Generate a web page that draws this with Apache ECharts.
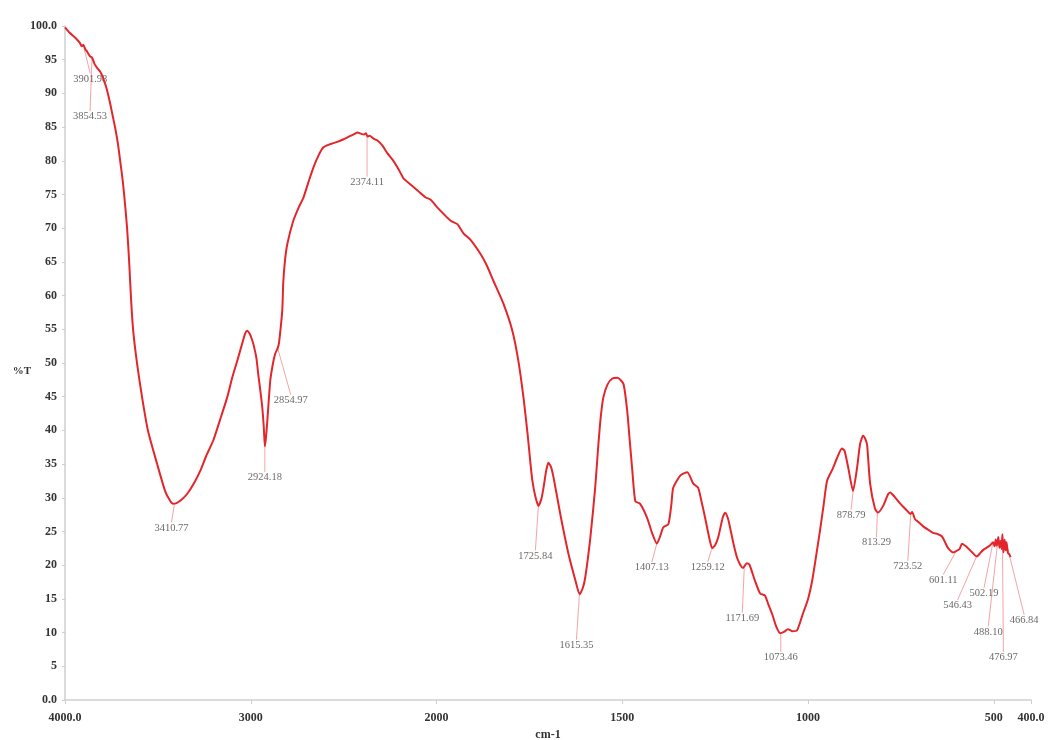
<!DOCTYPE html>
<html>
<head>
<meta charset="utf-8">
<title>FTIR spectrum</title>
<script src="https://cdn.jsdelivr.net/npm/echarts@6/dist/echarts.min.js"></script>
<style>
  html, body { margin: 0; padding: 0; background: #fff; }
  #chart { width: 1051px; height: 740px; }
</style>
</head>
<body>
<div id="chart"></div>
<script>
// wavenumber (cm-1) and transmittance (%T)
var wavenumbers = [
  4000, 3975, 3946, 3920, 3910, 3901, 3890, 3881, 3865, 3854, 3840, 3827, 3810, 3795, 3775, 3757,
  3745, 3730, 3715, 3703, 3690, 3682, 3666, 3655, 3644, 3633, 3612, 3585, 3553, 3504, 3461, 3435,
  3418, 3400, 3370, 3342, 3305, 3272, 3240, 3202, 3165, 3127, 3100, 3073, 3045, 3030, 3019, 3005,
  2995, 2986, 2970, 2960, 2948, 2938, 2930, 2924, 2918, 2911, 2895, 2880, 2868, 2855, 2848, 2838,
  2830, 2825, 2815, 2803, 2771, 2740, 2717, 2690, 2663, 2635, 2609, 2570, 2534, 2500, 2464, 2440,
  2426, 2405, 2390, 2380, 2372, 2360, 2340, 2318, 2290, 2264, 2235, 2210, 2190, 2178, 2140, 2102,
  2060, 2030, 2000, 1962, 1944, 1927, 1909, 1882, 1865, 1847, 1820, 1796, 1780, 1766, 1755, 1747,
  1742, 1734, 1726, 1718, 1712, 1705, 1699, 1692, 1685, 1667, 1645, 1626, 1615, 1607, 1600, 1586,
  1573, 1565, 1558, 1551, 1540, 1527, 1513, 1497, 1487, 1480, 1473, 1465, 1452, 1433, 1420, 1407,
  1398, 1390, 1376, 1368, 1363, 1344, 1325, 1309, 1296, 1287, 1277, 1265, 1258, 1250, 1242, 1230,
  1223, 1216, 1210, 1200, 1191, 1182, 1175, 1165, 1158, 1143, 1129, 1116, 1107, 1097, 1085, 1075,
  1065, 1054, 1042, 1030, 1014, 1000, 989, 978, 968, 958, 949, 933, 922, 909, 902, 892,
  879, 868, 860, 852, 845, 841, 833, 820, 812, 798, 785, 779, 768, 753, 734, 725,
  720, 712, 707, 691, 675, 664, 650, 640, 632, 624, 610, 601, 592, 586, 575, 560,
  546, 538, 530, 511, 502, 498, 495, 492, 488, 485, 482, 479, 477, 474, 471, 468,
  466, 462, 458, 455
];
var transmittance = [
  99.8, 99.0, 98.3, 97.5, 97.0, 97.2, 96.5, 96.2, 95.5, 95.3, 94.3, 93.8, 93.2, 92.3, 90.6, 88.5,
  86.9, 84.9, 82.5, 80.0, 77.2, 75.1, 70.1, 65.2, 59.3, 54.8, 49.9, 44.9, 39.9, 35.0, 31.0, 29.6,
  29.1, 29.2, 29.8, 30.6, 32.2, 34.0, 36.2, 38.5, 41.6, 44.9, 47.8, 50.3, 53.0, 54.4, 54.8, 54.3,
  53.6, 52.8, 50.8, 48.4, 45.8, 43.4, 40.5, 37.6, 39.0, 41.4, 47.4, 50.0, 51.4, 52.2, 53.0, 55.5,
  58.0, 62.0, 65.4, 67.7, 71.1, 73.2, 74.5, 76.8, 79.0, 80.8, 82.0, 82.5, 82.8, 83.2, 83.7, 84.0,
  84.2, 84.0, 83.9, 84.1, 83.6, 83.7, 83.3, 83.0, 82.2, 81.1, 80.1, 79.0, 78.0, 77.4, 76.5, 75.6,
  74.6, 74.2, 73.2, 71.1, 70.6, 69.2, 68.3, 66.2, 64.5, 62.2, 58.8, 54.8, 50.4, 44.9, 39.5, 35.0,
  32.5, 30.2, 28.8, 29.8, 31.5, 34.0, 35.2, 34.6, 33.0, 27.6, 21.7, 17.7, 15.7, 16.5, 18.1, 24.1,
  31.5, 37.5, 42.0, 44.9, 46.8, 47.7, 47.8, 46.9, 43.0, 38.5, 34.0, 29.5, 29.1, 27.0, 24.8, 23.2,
  24.3, 25.6, 26.1, 29.0, 31.5, 33.3, 33.8, 32.1, 31.5, 29.5, 27.0, 23.8, 22.5, 23.0, 24.1, 27.0,
  27.8, 27.0, 25.6, 23.0, 21.1, 20.0, 19.6, 20.3, 20.1, 17.7, 15.8, 15.5, 14.2, 12.8, 10.8, 9.9,
  10.1, 10.5, 10.2, 10.3, 12.8, 15.0, 17.7, 21.5, 25.1, 29.0, 32.5, 34.4, 35.9, 37.3, 37.0, 34.5,
  31.0, 34.5, 38.0, 39.2, 38.6, 37.8, 32.1, 28.4, 27.8, 28.8, 30.5, 30.8, 30.2, 29.2, 28.1, 27.6,
  27.9, 26.8, 26.6, 25.8, 25.2, 24.8, 24.6, 24.3, 23.5, 22.6, 21.9, 22.1, 22.4, 23.2, 22.8, 22.0,
  21.3, 21.7, 22.2, 22.9, 23.4, 22.8, 23.8, 22.9, 24.2, 22.6, 23.6, 22.4, 24.6, 21.9, 23.8, 22.2,
  23.4, 21.8, 21.6, 21.2
];

// labelled peaks
var peakLabels = ['3901.98', '3854.53', '3410.77', '2924.18', '2854.97', '2374.11', '1725.84', '1615.35',
  '1407.13', '1259.12', '1171.69', '1073.46', '878.79', '813.29', '723.52', '601.11', '546.43',
  '502.19', '488.10', '476.97', '466.84'];
var peakWn = [3901.98, 3854.53, 3410.77, 2924.18, 2854.97, 2374.11, 1725.84, 1615.35,
  1407.13, 1259.12, 1171.69, 1073.46, 878.79, 813.29, 723.52, 601.11, 546.43,
  502.19, 488.10, 476.97, 466.84];
var peakT = [97.2, 95.3, 29.1, 37.6, 52.2, 83.8, 28.8, 15.7, 23.2, 22.5, 19.7, 9.9, 31.0, 27.8,
  27.7, 22.1, 21.3, 23.4, 24.2, 24.6, 23.4];
// label offset from the peak, px
var peakLabelOffset = [[7, 34], [-2, 59], [-3, 24], [0, 31], [13, 52], [0, 47], [-3, 50], [-3, 51],
  [-5, 24], [-4, 19], [-2, 51], [0, 24], [-2, 24], [-1, 30], [-3, 53], [-13, 29], [-19, 49],
  [-9, 51], [-10, 95], [1, 123], [18, 78]];

// x axis ticks (scale changes at 2000 cm-1)
var xTickWn = [4000, 3000, 2000, 1500, 1000, 500, 400];
var xTickLabels = ['4000.0', '3000', '2000', '1500', '1000', '500', '400.0'];

// 4000-2000 drawn at half the scale of 2000-400
function wnToPos(wn) {
  return wn >= 2000 ? (4000 - wn) / 2 : 1000 + (2000 - wn);
}

var lineData = wavenumbers.map(function (wn, i) {
  return [wnToPos(wn), transmittance[i]];
});
var peakData = peakWn.map(function (wn, i) {
  return { value: [wnToPos(wn), peakT[i]], name: peakLabels[i] };
});

var serif = '"Liberation Serif", "DejaVu Serif", serif';
var axisColor = '#cfcfcf';

var myChart = echarts.init(document.getElementById('chart'));
var option = {
  animation: false,
  backgroundColor: '#fff',
  grid: { left: 65, right: 20, top: 26, bottom: 40, outerBoundsMode: 'none', containLabel: false },
  xAxis: {
    type: 'value',
    min: 0,
    max: 2600,
    interval: 500,
    name: 'cm-1',
    nameLocation: 'middle',
    nameGap: 27,
    nameTextStyle: { fontFamily: serif, fontWeight: 'bold', fontSize: 12, color: '#333' },
    splitLine: { show: false },
    axisLine: { lineStyle: { color: axisColor, width: 1.5 } },
    axisTick: { length: 4, lineStyle: { color: axisColor } },
    axisLabel: {
      showMinLabel: true,
      showMaxLabel: true,
      margin: 12,
      fontFamily: serif,
      fontWeight: 'bold',
      fontSize: 12,
      color: '#333',
      formatter: function (v) {
        for (var i = 0; i < xTickWn.length; i++) {
          if (Math.abs(wnToPos(xTickWn[i]) - v) < 1e-6) return xTickLabels[i];
        }
        return '';
      }
    }
  },
  yAxis: {
    type: 'value',
    min: 0,
    max: 100,
    interval: 5,
    name: '%T',
    nameLocation: 'middle',
    nameRotate: 0,
    nameGap: 43,
    nameMoveOverlap: false,
    nameTextStyle: { fontFamily: serif, fontWeight: 'bold', fontSize: 11, color: '#333', align: 'center', verticalAlign: 'top', padding: [3, 0, 0, 0] },
    splitLine: { show: false },
    axisLine: { show: true, lineStyle: { color: axisColor, width: 1.5 } },
    axisTick: { show: true, length: 3, lineStyle: { color: axisColor } },
    axisLabel: {
      margin: 8,
      fontFamily: serif,
      fontWeight: 'bold',
      fontSize: 12,
      color: '#333',
      formatter: function (v) {
        if (v === 0) return '0.0';
        if (v === 100) return '100.0';
        return String(v);
      }
    }
  },
  series: [
    {
      type: 'line',
      data: lineData,
      showSymbol: false,
      smooth: 0.2,
      lineStyle: { color: '#e3262b', width: 2 },
      silent: true,
      z: 3
    },
    {
      type: 'scatter',
      data: peakData,
      symbolSize: 2,
      itemStyle: { color: 'rgba(0,0,0,0)' },
      silent: true,
      z: 2,
      label: {
        show: true,
        position: 'inside',
        formatter: '{b}',
        fontFamily: serif,
        fontSize: 10.5,
        color: '#444'
      },
      labelLine: {
        show: true,
        length2: 0,
        lineStyle: { color: '#f2a5a5', width: 1 }
      },
      labelLayout: function (params) {
        var off = peakLabelOffset[params.dataIndex];
        return { dx: off[0], dy: off[1] };
      }
    }
  ]
};
myChart.setOption(option);
window.addEventListener('resize', function () {
  myChart.resize();
});
</script>
</body>
</html>
